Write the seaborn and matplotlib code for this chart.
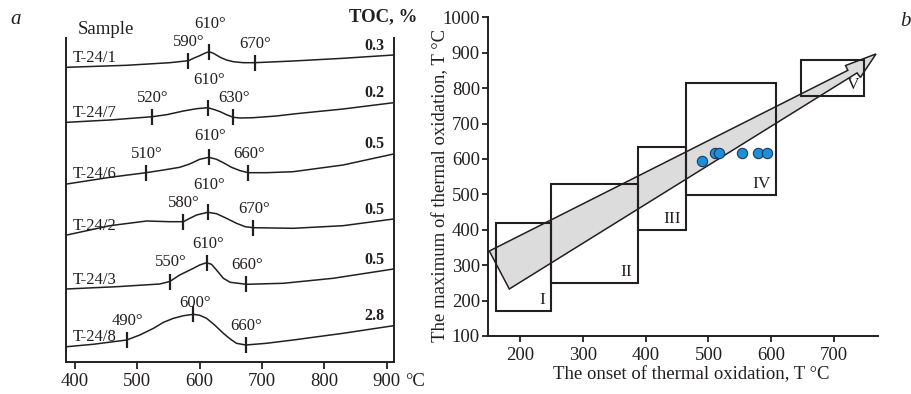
import numpy as np
import pandas as pd
import matplotlib
matplotlib.use("Agg")
import matplotlib.pyplot as plt
import seaborn as sns
from matplotlib.patches import Rectangle, Polygon

# ---------------- data: panel a (thermal curves) ----------------
samples = ["T-24/1", "T-24/7", "T-24/6", "T-24/2", "T-24/3", "T-24/8"]
toc = ["0.3", "0.2", "0.5", "0.5", "0.5", "2.8"]

t_1 = [387, 483, 552, 582, 590, 600, 608, 615, 622, 633, 643, 654, 670, 688, 750, 830, 911]
s_1 = [294.7, 296.7, 299.3, 301.3, 303.7, 306.3, 308.7, 310.3, 308.7, 304.7, 302, 300.3,
       299.3, 299.3, 301, 303.7, 307]
t_7 = [387, 456, 524, 547, 574, 595, 613, 622, 633, 643, 654, 665, 686, 723, 750, 830, 911]
s_7 = [239.7, 242, 245.3, 247.3, 251, 253.3, 254.3, 252.7, 250.3, 247.3, 244.7, 244,
       244.3, 246, 248, 253, 259.3]
t_6 = [387, 456, 514, 542, 568, 584, 600, 615, 627, 638, 651, 665, 678, 707, 750, 830, 911]
s_6 = [178, 184.7, 189.3, 192, 194.7, 198, 202.7, 204.7, 202.7, 199.3, 194.7, 191.3,
       189.3, 189.3, 190.3, 197, 208]
t_2 = [387, 456, 515, 552, 574, 582, 595, 613, 627, 643, 659, 673, 686, 750, 830, 911]
s_2 = [127, 136.3, 141, 140.3, 140.3, 143, 147, 149.7, 148.3, 143.7, 138.7, 135.3,
       134.3, 133.7, 136.3, 143]
t_3 = [386, 467, 536, 552, 568, 590, 600, 611, 619, 627, 638, 649, 675, 734, 814, 911]
s_3 = [73, 75.3, 78, 80.5, 87, 93.7, 97, 99.3, 97.7, 92, 83.7, 79.7, 77.7, 78.7, 83.7, 93]
t_8 = [387, 429, 483, 504, 526, 542, 558, 574, 590, 600, 611, 624, 638, 649, 659, 674,
       707, 750, 830, 911]
s_8 = [15.3, 17.7, 22, 27, 33.7, 39.7, 43.7, 46.3, 47.7, 46.7, 43.7, 37, 28.7, 23, 18.7,
       17, 18.7, 22, 28.7, 36.3]

curve_t = [t_1, t_7, t_6, t_2, t_3, t_8]
curve_s = [s_1, s_7, s_6, s_2, s_3, s_8]

# marked temperatures (tick positions) and their printed labels
mark_t = [[582, 615, 688], [524, 613, 654], [514, 615, 678],
          [574, 613, 686], [552, 611, 675], [483, 590, 674]]
mark_lbl = [["590°", "610°", "670°"], ["520°", "610°", "630°"], ["510°", "610°", "660°"],
            ["580°", "610°", "670°"], ["550°", "610°", "660°"], ["490°", "600°", "660°"]]

a_xticks = [400, 500, 600, 700, 800, 900]

# ---------------- data: panel b ----------------
onset = [490, 510, 517, 553, 578, 593]
tmax = [595, 617, 617, 617, 617, 617]

zone_names = ["I", "II", "III", "IV", "V"]
zone_x0 = [163, 250, 388, 465, 647]
zone_x1 = [250, 388, 465, 607, 748]
zone_y0 = [172, 250, 400, 498, 778]
zone_y1 = [418, 530, 633, 815, 880]

arrow_x = [151.6, 721.6, 717.9, 766.4, 741.5, 736.2, 183.4]
arrow_y = [340.0, 850.3, 863.8, 896.6, 830.2, 842.9, 232.8]

b_xticks = [200, 300, 400, 500, 600, 700]
b_yticks = [100, 200, 300, 400, 500, 600, 700, 800, 900, 1000]

# ---------------- style ----------------
sns.set_style("ticks")
plt.rcParams["font.family"] = ["Liberation Serif", "DejaVu Serif"]
INK = "#231f20"
plt.rcParams["axes.edgecolor"] = INK
plt.rcParams["xtick.color"] = INK
plt.rcParams["ytick.color"] = INK
plt.rcParams["text.color"] = INK
plt.rcParams["axes.labelcolor"] = INK

W, H = 911, 394
fig = plt.figure(figsize=(W / 100, H / 100), dpi=100)

def px_axes(x0, y0, x1, y1):
    return fig.add_axes([x0 / W, 1 - y1 / H, (x1 - x0) / W, (y1 - y0) / H])

# ================= panel a =================
axa = px_axes(66, 38, 394, 362)
rows = []
for name, tt, ss in zip(samples, curve_t, curve_s):
    for t, s in zip(tt, ss):
        rows.append({"sample": name, "T": t, "S": s})
dfa = pd.DataFrame(rows)
sns.lineplot(data=dfa, x="T", y="S", units="sample", estimator=None, sort=False,
             color=INK, linewidth=1.1, ax=axa)
for ln in axa.lines:
    ln.set_solid_joinstyle("round")

axa.set_xlim(385.6, 911.7)
axa.set_ylim(0, 324)
axa.set_xticks(a_xticks)
axa.set_xticklabels([str(v) for v in a_xticks])
axa.set_yticks([])
axa.set_xlabel("")
axa.set_ylabel("")
for side in ["left", "right", "bottom"]:
    axa.spines[side].set_linewidth(1.4)
axa.spines["top"].set_visible(False)
axa.tick_params(axis="x", direction="out", length=5, width=1.3, labelsize=13.5, pad=3)
axa.annotate("°C", xy=(900, 0), xycoords=("data", "axes fraction"),
             xytext=(13.5, -8.0), textcoords="offset points", ha="left", va="top",
             fontsize=13.5, annotation_clip=False)

for i, (name, tt, ss) in enumerate(zip(samples, curve_t, curve_s)):
    hs = [float(np.interp(m, tt, ss)) for m in mark_t[i]]
    axa.vlines(mark_t[i], [h - 8 for h in hs], [h + 8 for h in hs], color=INK, linewidth=1.6)
    side_centers = []
    for j in (0, 2):
        c = hs[j] + 8 + 11
        side_centers.append(c)
        axa.text(mark_t[i][j] + 1, c, mark_lbl[i][j], ha="center", va="center", fontsize=12)
    axa.text(mark_t[i][1] + 2, max(side_centers) + 18, mark_lbl[i][1], ha="center",
             va="center", fontsize=12)
    axa.text(396, ss[0] + 9.5, name, ha="left", va="center", fontsize=12)
    axa.text(897, ss[-1] + 9.5, toc[i], ha="right", va="center", fontsize=11.5,
             fontweight="bold")

fig.text(78 / W, 1 - 30 / H, "Sample", ha="left", va="center", fontsize=13.5)
fig.text(417 / W, 1 - 17 / H, "TOC, %", ha="right", va="center", fontsize=13.5,
         fontweight="bold")
fig.text(10 / W, 1 - 20 / H, "a", ha="left", va="center", fontsize=15, style="italic")
fig.text(905 / W, 1 - 22 / H, "b", ha="center", va="center", fontsize=15, style="italic")

# ================= panel b =================
axb = px_axes(488.3, 17.3, 878.3, 336)
axb.add_patch(Polygon(np.column_stack([arrow_x, arrow_y]), closed=True,
                      facecolor="#dcdcdc", edgecolor=INK, linewidth=1.1,
                      clip_on=False, zorder=2))
for nm, x0, x1, y0, y1 in zip(zone_names, zone_x0, zone_x1, zone_y0, zone_y1):
    axb.add_patch(Rectangle((x0, y0), x1 - x0, y1 - y0, fill=False, edgecolor=INK,
                            linewidth=1.5, zorder=3))
    axb.annotate(nm, xy=(x1, y0), xytext=(-4, 2), textcoords="offset points",
                 ha="right", va="bottom", fontsize=12.5, zorder=4)

dfb = pd.DataFrame({"onset": onset, "tmax": tmax})
sns.scatterplot(data=dfb, x="onset", y="tmax", s=55, color="#1b8fd8",
                edgecolor="#1d3b5e", linewidth=0.8, zorder=5, ax=axb)

axb.set_xlim(150, 770)
axb.set_ylim(100, 1000)
axb.set_xticks(b_xticks)
axb.set_yticks(b_yticks)
axb.spines["top"].set_visible(False)
axb.spines["right"].set_visible(False)
for side in ["left", "bottom"]:
    axb.spines[side].set_linewidth(1.4)
axb.tick_params(direction="out", length=4, width=1.3, labelsize=13.5, pad=2)
axb.tick_params(axis="x", pad=3.6)
axb.set_xlabel("The onset of thermal oxidation, T °C", fontsize=13.5)
axb.set_ylabel("The maximum of thermal oxidation, T °C", fontsize=13.5)
axb.xaxis.set_label_coords((691 - 488.3) / 390, (336 - 366) / 318.7)
axb.yaxis.set_label_coords((449 - 488.3) / 390, (336 - 185) / 318.7)

fig.savefig("out.png", dpi=100)
